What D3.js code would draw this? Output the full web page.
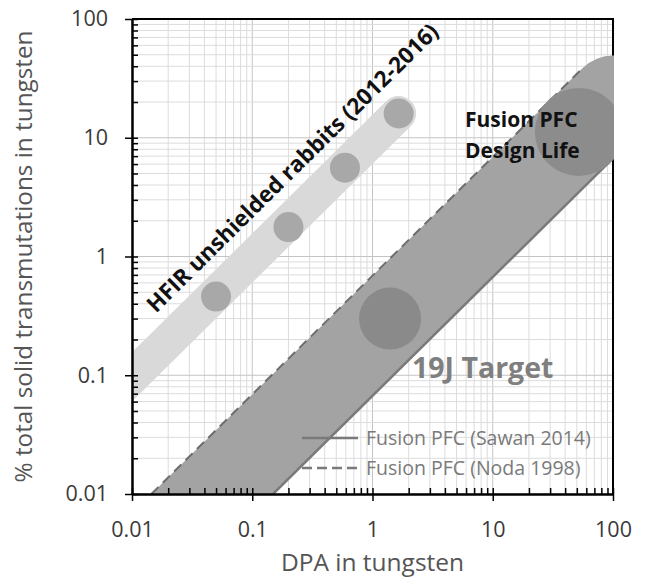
<!DOCTYPE html>
<html>
<head>
<meta charset="utf-8">
<script src="https://cdn.jsdelivr.net/npm/d3@7"></script>
<style>
  body { margin: 0; background: #fff; }
  text { font-family: "Open Sans", "Noto Sans", sans-serif; }
</style>
</head>
<body>
<div id="chart"></div>
<script>
// axis ticks
const xTicks = [0.01, 0.1, 1, 10, 100];
const yTicks = [0.01, 0.1, 1, 10, 100];

// HFIR unshielded rabbit points
const hfirDpa = [0.05, 0.2, 0.59, 1.65];
const hfirTrans = [0.46, 1.77, 5.6, 16];
// HFIR band centre line (ends on last point)
const hfirBandDpa = [0.004, 1.65];
const hfirBandTrans = [0.0388, 16];

// fusion PFC lines
const sawanDpa = [0.149, 100];
const sawanTrans = [0.01, 6.7];
const nodaDpa = [0.0145, 56];
const nodaTrans = [0.01, 38.6];
// fusion band centre line
const pfcBandDpa = [0.01, 100];
const pfcBandTrans = [0.00215, 21.5];

// big markers
const targetDpa = [1.4];
const targetTrans = [0.30];
const lifeDpa = [52];
const lifeTrans = [11.2];

const svgWidth = 649;
const svgHeight = 581;
const margin = { top: 19, right: 36, bottom: 87, left: 132 };
const width = svgWidth - margin.left - margin.right;
const height = svgHeight - margin.top - margin.bottom;

const XScale = d3.scaleLog().domain([0.01, 100]).range([0, width]);
const YScale = d3.scaleLog().domain([0.01, 100]).range([height, 0]);

const svg = d3.select("#chart")
  .append("svg")
  .attr("width", svgWidth)
  .attr("height", svgHeight)
  .append("g")
  .attr("transform", `translate(${margin.left},${margin.top})`);

svg.append("defs").append("clipPath")
  .attr("id", "plotclip")
  .append("rect")
  .attr("x", 0).attr("y", 0)
  .attr("width", width + 1).attr("height", height);

// grid
const minorX = XScale.ticks();
const minorY = YScale.ticks();
svg.append("g").selectAll("line")
  .data(minorX)
  .enter().append("line")
  .attr("x1", d => XScale(d)).attr("x2", d => XScale(d))
  .attr("y1", 0).attr("y2", height)
  .attr("stroke", d => xTicks.includes(d) ? "#c4c4c4" : "#dcdcdc")
  .attr("stroke-width", 1);
svg.append("g").selectAll("line")
  .data(minorY)
  .enter().append("line")
  .attr("y1", d => YScale(d)).attr("y2", d => YScale(d))
  .attr("x1", 0).attr("x2", width)
  .attr("stroke", d => yTicks.includes(d) ? "#c4c4c4" : "#dcdcdc")
  .attr("stroke-width", 1);

// top and right frame
svg.append("path")
  .attr("d", `M0,0H${width}V${height}`)
  .attr("fill", "none")
  .attr("stroke", "#000")
  .attr("stroke-width", 2);

const plot = svg.append("g").attr("clip-path", "url(#plotclip)");
const line = d3.line().x(d => XScale(d[0])).y(d => YScale(d[1]));

// HFIR band
plot.append("path")
  .datum(d3.zip(hfirBandDpa, hfirBandTrans))
  .attr("d", line)
  .attr("fill", "none")
  .attr("stroke", "#d9d9d9")
  .attr("stroke-width", 35)
  .attr("stroke-linecap", "round");

plot.selectAll(".hfir")
  .data(d3.zip(hfirDpa, hfirTrans))
  .enter().append("circle")
  .attr("class", "hfir")
  .attr("cx", d => XScale(d[0]))
  .attr("cy", d => YScale(d[1]))
  .attr("r", 15)
  .attr("fill", "#a8a8a8");

// fusion band, width = perpendicular gap between Noda and Sawan lines
const decX = XScale(10) - XScale(1);
const decY = YScale(1) - YScale(10);
const ang = Math.atan2(decY, decX);
const gapY = YScale(sawanTrans[1] / sawanDpa[1]) - YScale(nodaTrans[1] / nodaDpa[1]);
plot.append("path")
  .datum(d3.zip(pfcBandDpa, pfcBandTrans))
  .attr("d", line)
  .attr("fill", "none")
  .attr("stroke", "#a3a3a3")
  .attr("stroke-width", gapY * Math.cos(ang))
  .attr("stroke-linecap", "round");

plot.append("path")
  .datum(d3.zip(sawanDpa, sawanTrans))
  .attr("d", line)
  .attr("fill", "none")
  .attr("stroke", "#7a7a7a")
  .attr("stroke-width", 2.5);

plot.append("path")
  .datum(d3.zip(nodaDpa, nodaTrans))
  .attr("d", line)
  .attr("fill", "none")
  .attr("stroke", "#6e6e6e")
  .attr("stroke-width", 2)
  .attr("stroke-dasharray", "10,6");

plot.selectAll(".target")
  .data(d3.zip(targetDpa, targetTrans))
  .enter().append("circle")
  .attr("class", "target")
  .attr("cx", d => XScale(d[0]))
  .attr("cy", d => YScale(d[1]))
  .attr("r", 31)
  .attr("fill", "#8a8a8a");

plot.selectAll(".life")
  .data(d3.zip(lifeDpa, lifeTrans))
  .enter().append("circle")
  .attr("class", "life")
  .attr("cx", d => XScale(d[0]))
  .attr("cy", d => YScale(d[1]))
  .attr("r", 44)
  .attr("fill", "#8c8c8c");

// axes
const fmt = d3.format("~g");
svg.append("g")
  .call(d3.axisLeft(YScale).tickValues(yTicks).tickFormat(fmt).tickSize(7).tickSizeOuter(0).tickPadding(17));
svg.append("g")
  .call(d3.axisLeft(YScale).tickValues(minorY).tickFormat("").tickSize(-6).tickSizeOuter(0))
  .select(".domain").remove();
svg.append("g")
  .attr("transform", `translate(0,${height})`)
  .call(d3.axisBottom(XScale).tickValues(xTicks).tickFormat(fmt).tickSize(7).tickSizeOuter(0).tickPadding(21));
svg.append("g")
  .attr("transform", `translate(0,${height})`)
  .call(d3.axisBottom(XScale).tickValues(minorX).tickFormat("").tickSize(-6).tickSizeOuter(0))
  .select(".domain").remove();

svg.selectAll(".domain").attr("stroke", "#000").attr("stroke-width", 2.5);
svg.selectAll(".tick line").attr("stroke", "#000").attr("stroke-width", 1.5);
svg.selectAll(".tick text")
  .style("font-size", "21.5px")
  .style("font-family", "'Open Sans', sans-serif")
  .attr("fill", "#3a3a3a");

// axis titles
svg.append("text")
  .attr("x", width / 2)
  .attr("y", height + 77)
  .attr("text-anchor", "middle")
  .style("font-size", "24.5px")
  .attr("fill", "#555")
  .text("DPA in tungsten");

svg.append("text")
  .attr("transform", "rotate(-90)")
  .attr("x", -height / 2)
  .attr("y", -margin.left + 32)
  .attr("text-anchor", "middle")
  .style("font-size", "24.3px")
  .attr("fill", "#555")
  .text("% total solid transmutations in tungsten");

// annotations
const angDeg = -ang * 180 / Math.PI;
svg.append("text")
  .attr("transform", `translate(${XScale(0.0158)},${YScale(0.33)}) rotate(${angDeg})`)
  .style("font-size", "22.5px")
  .style("font-weight", "bold")
  .attr("fill", "#111")
  .text("HFIR unshielded rabbits (2012-2016)");

const life = svg.append("text")
  .style("font-size", "21px")
  .style("font-weight", "bold")
  .attr("fill", "#111");
life.append("tspan").attr("x", 333).attr("y", 108).text("Fusion  PFC");
life.append("tspan").attr("x", 333).attr("y", 139).text("Design Life");

svg.append("text")
  .attr("x", 280)
  .attr("y", 359)
  .style("font-size", "28.5px")
  .style("font-weight", "bold")
  .attr("fill", "#7f7f7f")
  .text("19J Target");

// legend
const legend = [
  { label: "Fusion PFC (Sawan 2014)", dash: null },
  { label: "Fusion PFC (Noda 1998)", dash: "10,5" }
];
const lg = svg.append("g").attr("transform", "translate(170,419)");
legend.forEach((d, i) => {
  lg.append("line")
    .attr("x1", 0).attr("x2", 56)
    .attr("y1", i * 30).attr("y2", i * 30)
    .attr("stroke", "#7a7a7a")
    .attr("stroke-width", 2.5)
    .attr("stroke-dasharray", d.dash);
  lg.append("text")
    .attr("x", 64)
    .attr("y", i * 30 + 7)
    .style("font-size", "19.5px")
    .attr("fill", "#7a7a7a")
    .text(d.label);
});
</script>
</body>
</html>
